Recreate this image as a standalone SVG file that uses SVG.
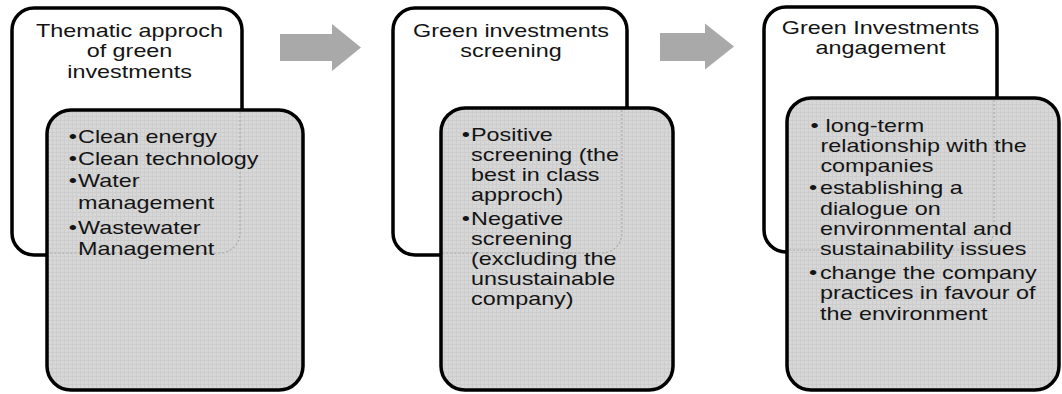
<svg xmlns="http://www.w3.org/2000/svg" width="1062" height="394" viewBox="0 0 1062 394">
<defs>
<pattern id="tex" width="4" height="4" patternUnits="userSpaceOnUse">
<rect width="4" height="4" fill="#d7d7d7"/>
<rect width="4" height="1" fill="#cdcdcd"/>
<rect width="1" height="4" fill="#cdcdcd"/>
</pattern>
<style>
.box{fill:#fff;stroke:#000;stroke-width:3.5}
.panel{fill:url(#tex);stroke:#000;stroke-width:3.5}
.ghost{fill:none;stroke:#a8a8a8;stroke-width:1.1;stroke-dasharray:2 2}
text{font-family:"Liberation Sans",Arial,sans-serif;font-size:19px;fill:#141414}
.t{text-anchor:middle}
.arrow{fill:#a9a9a9}
</style>
</defs>
<rect width="1062" height="394" fill="#fff"/>

<g id="node-thematic">
<rect class="box" x="12" y="8" width="230" height="247" rx="22"/>
<g transform="translate(129.5 0) scale(1.23 1)">
<text class="t" x="0" y="37">Thematic approch</text>
<text class="t" x="0" y="57.5">of green</text>
<text class="t" x="0" y="78">investments</text>
</g>
</g>
<g id="node-thematic-list">
<rect class="panel" x="47" y="110" width="256" height="280" rx="24"/>
<path class="ghost" d="M 240 112 V 233 A 20 20 0 0 1 220 253 H 49"/>
<g transform="translate(68.7 0) scale(1.23 1)">
<text x="0" y="143">•</text><text x="7.6" y="143">Clean energy</text>
<text x="0" y="165">•</text><text x="7.6" y="165">Clean technology</text>
<text x="0" y="187">•</text><text x="7.6" y="187">Water</text>
<text x="7.6" y="209">management</text>
<text x="0" y="234">•</text><text x="7.6" y="234">Wastewater</text>
<text x="7.6" y="255">Management</text>
</g>
</g>

<g id="node-screening">
<rect class="box" x="393" y="8" width="234" height="247" rx="22"/>
<g transform="translate(511 0) scale(1.23 1)">
<text class="t" x="0" y="37">Green investments</text>
<text class="t" x="0" y="57">screening</text>
</g>
</g>
<g id="node-screening-list">
<rect class="panel" x="441" y="108" width="232" height="282" rx="24"/>
<path class="ghost" d="M 622 110 V 233 A 20 20 0 0 1 602 253 H 443"/>
<g transform="translate(461.7 0) scale(1.23 1)">
<text x="0" y="141">•</text><text x="7.6" y="141">Positive</text>
<text x="7.6" y="161">screening (the</text>
<text x="7.6" y="181">best in class</text>
<text x="7.6" y="201">approch)</text>
<text x="0" y="225">•</text><text x="7.6" y="225">Negative</text>
<text x="7.6" y="245">screening</text>
<text x="7.6" y="265">(excluding the</text>
<text x="7.6" y="285">unsustainable</text>
<text x="7.6" y="305">company)</text>
</g>
</g>

<g id="node-engagement">
<rect class="box" x="764" y="7" width="233" height="245" rx="22"/>
<g transform="translate(880.5 0) scale(1.23 1)">
<text class="t" x="0" y="34">Green Investments</text>
<text class="t" x="0" y="54">angagement</text>
</g>
</g>
<g id="node-engagement-list">
<rect class="panel" x="787" y="98" width="272" height="292" rx="24"/>
<path class="ghost" d="M 994 100 V 230 A 20 20 0 0 1 974 250 H 789"/>
<g transform="translate(809 0) scale(1.23 1)">
<text x="1.2" y="132">•</text><text x="13.4" y="132">long-term</text>
<text x="9.3" y="152">relationship with the</text>
<text x="9.3" y="172">companies</text>
<text x="0" y="194">•</text><text x="8.9" y="194">establishing a</text>
<text x="8.9" y="215">dialogue on</text>
<text x="8.9" y="235">environmental and</text>
<text x="8.9" y="255">sustainability issues</text>
<text x="0" y="279">•</text><text x="8.9" y="279">change the company</text>
<text x="8.9" y="299">practices in favour of</text>
<text x="8.9" y="320">the environment</text>
</g>
</g>

<g id="connectors">
<polygon class="arrow" points="280,34 332,34 332,24 361,47.5 332,71 332,61 280,61"/>
<polygon class="arrow" points="660,33 705,33 705,23.5 734,46.5 705,69.5 705,61 660,61"/>
</g>
</svg>
